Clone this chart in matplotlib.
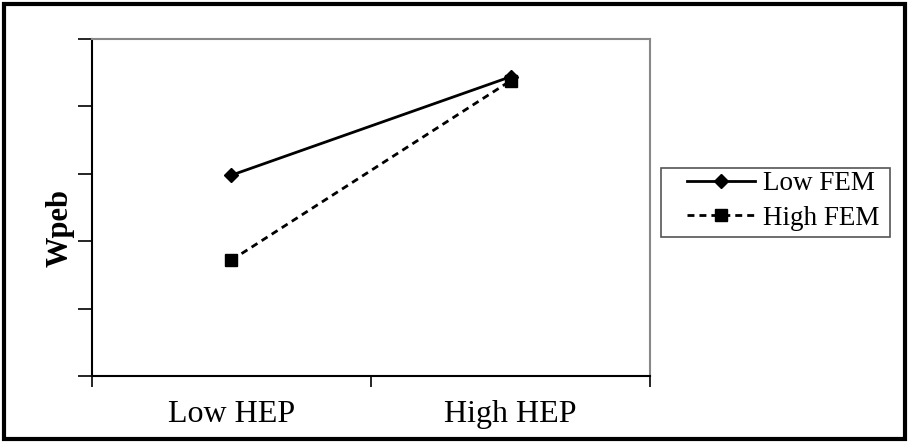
import matplotlib
matplotlib.use("Agg")
import matplotlib.pyplot as plt
from matplotlib.patches import Rectangle

# ----------------------------- data --------------------------------------- #
categories = ["Low HEP", "High HEP"]
low_fem = [2.98, 4.44]
high_fem = [1.72, 4.38]
series_names = ["Low FEM", "High FEM"]

plt.rcParams["font.family"] = ["Liberation Serif", "DejaVu Serif"]

fig = plt.figure(figsize=(9.09, 4.42), dpi=100)
ax = fig.add_axes([0.1012, 0.1493, 0.6139, 0.7624])

x = [0.5, 1.5]
ax.plot(x, low_fem, color="black", linewidth=2, marker="D", markersize=7,
        label=series_names[0])
ax.plot(x, high_fem, color="black", linewidth=2, linestyle=(0, (2.5, 1.8)),
        marker="s", markersize=8, label=series_names[1])

ax.set_xlim(0, 2)
ax.set_ylim(0, 5)
ax.set_xticks([0, 1, 2])
ax.set_xticklabels([])
ax.set_xticks(x, minor=True)
ax.set_xticklabels(categories, minor=True, fontsize=23)
ax.tick_params(axis="x", which="minor", length=0, pad=17)
ax.tick_params(axis="x", which="major", direction="out", length=8, width=1.2)
ax.set_yticks(range(6))
ax.set_yticklabels([])
ax.tick_params(axis="y", direction="out", length=10, width=1.2)

for side in ("left", "bottom"):
    ax.spines[side].set_color("black")
    ax.spines[side].set_linewidth(1.5)
for side in ("top", "right"):
    ax.spines[side].set_color("#888888")
    ax.spines[side].set_linewidth(1.5)

ax.set_ylabel("Wpeb", fontsize=22, fontweight="bold")
ax.yaxis.set_label_coords(-0.032, 0.438)

# legend: text and handles, frame drawn separately
leg = ax.legend(loc="center left", bbox_to_anchor=(687 / 909, 1 - 201 / 442),
                bbox_transform=fig.transFigure, fontsize=19.5, frameon=False,
                handlelength=2.5, handletextpad=0.3, borderpad=0,
                borderaxespad=0, labelspacing=0.36)
fig.patches.append(Rectangle((661 / 909, 1 - 237 / 442), 229 / 909, 69 / 442,
                             transform=fig.transFigure, fill=False,
                             edgecolor="#555555", linewidth=1.2))

# outer figure border
fig.patches.append(Rectangle((0.004, 0.006), 0.992, 0.986, transform=fig.transFigure,
                             fill=False, edgecolor="black", linewidth=3))

fig.savefig("out.png", dpi=100)
